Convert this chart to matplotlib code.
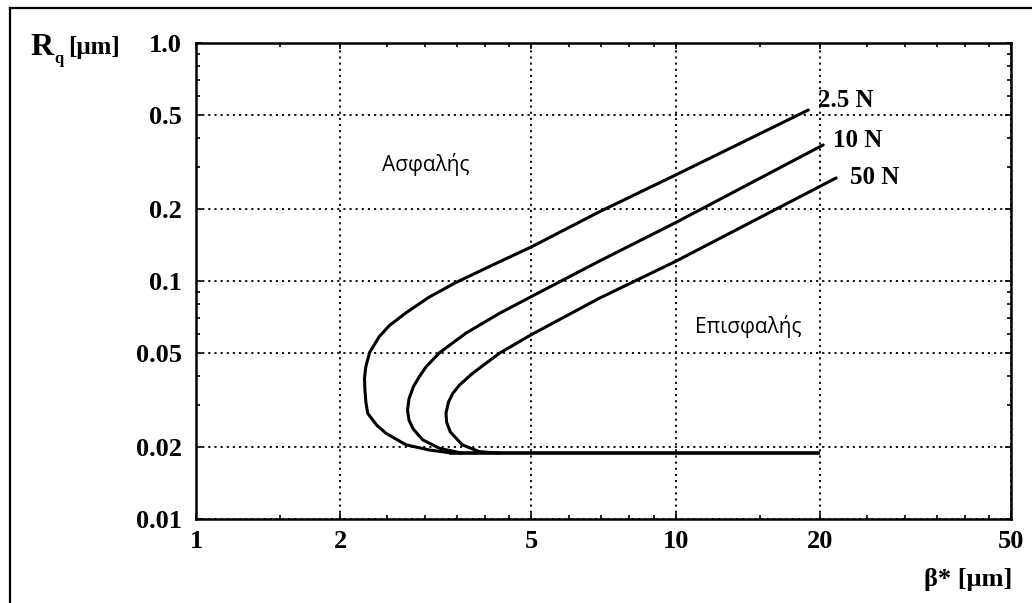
import matplotlib
matplotlib.use("Agg")
import matplotlib.pyplot as plt
from matplotlib.lines import Line2D

# ---- data ----
curve_labels = ["2.5 N", "10 N", "50 N"]

x_25 = [18.9, 10, 6.92, 5, 4.2, 3.48, 3.06, 2.74, 2.53, 2.41, 2.30, 2.26, 2.245, 2.25, 2.26, 2.28, 2.38, 2.49, 2.74, 3.06, 3.37]
y_25 = [0.523, 0.279, 0.195, 0.139, 0.118, 0.0985, 0.0855, 0.0735, 0.0650, 0.0584, 0.050, 0.0437, 0.039, 0.0348, 0.031, 0.0278, 0.0248, 0.0229, 0.0205, 0.0195, 0.0190]

x_10 = [20.3, 10, 6.92, 5, 4.29, 3.65, 3.22, 3.02, 2.92, 2.84, 2.78, 2.76, 2.78, 2.84, 2.97, 3.22, 3.59]
y_10 = [0.373, 0.176, 0.121, 0.0860, 0.0731, 0.0603, 0.050, 0.0437, 0.0396, 0.036, 0.032, 0.0287, 0.026, 0.0238, 0.0215, 0.0198, 0.0189]

x_50 = [21.6, 10, 6.92, 5, 4.29, 3.77, 3.54, 3.43, 3.36, 3.32, 3.33, 3.39, 3.59, 3.89, 4.29]
y_50 = [0.271, 0.121, 0.0845, 0.0595, 0.0497, 0.0409, 0.0365, 0.0337, 0.031, 0.0278, 0.0255, 0.0232, 0.0205, 0.0192, 0.0189]

x_floor = [3.37, 20]
y_floor = [0.0189, 0.0189]

x_ticks = [1, 2, 5, 10, 20, 50]
x_ticklabels = ["1", "2", "5", "10", "20", "50"]
y_ticks = [0.01, 0.02, 0.05, 0.1, 0.2, 0.5, 1.0]
y_ticklabels = ["0.01", "0.02", "0.05", "0.1", "0.2", "0.5", "1.0"]
x_minor = [1.5, 2.5, 3, 3.5, 4, 4.5, 6, 7, 8, 9, 15, 25, 30, 35, 40, 45]
y_minor = [0.03, 0.04, 0.06, 0.07, 0.08, 0.09, 0.3, 0.4, 0.6, 0.7, 0.8, 0.9]

label_pos = [(19.8, 0.576), (21.3, 0.391), (23.1, 0.271)]

SERIF = "Liberation Serif"
W, H = 1032, 603

fig = plt.figure(figsize=(W / 100, H / 100), dpi=100)
fig.patch.set_facecolor("white")
ax = fig.add_axes([196 / W, 1 - 519 / H, (1011 - 196) / W, (519 - 43) / H])
ax.set_xscale("log")
ax.set_yscale("log")
ax.set_xlim(1, 50)
ax.set_ylim(0.01, 1.0)

lw = 2.2
for xs, ys in [(x_25, y_25), (x_10, y_10), (x_50, y_50)]:
    ax.plot(xs, ys, color="black", lw=lw, solid_capstyle="round", solid_joinstyle="round", zorder=3)
ax.plot(x_floor, y_floor, color="black", lw=2.6, solid_capstyle="butt", zorder=3)

ax.set_xticks(x_ticks)
ax.set_xticklabels(x_ticklabels)
ax.set_yticks(y_ticks)
ax.set_yticklabels(y_ticklabels)
ax.set_xticks(x_minor, minor=True)
ax.set_yticks(y_minor, minor=True)
ax.xaxis.set_minor_formatter(plt.NullFormatter())
ax.yaxis.set_minor_formatter(plt.NullFormatter())

ax.tick_params(which="both", direction="in", top=True, right=True, color="black")
ax.tick_params(which="major", length=4, width=1.2)
ax.tick_params(axis="y", which="major", pad=10)
ax.tick_params(axis="x", which="major", pad=8)
ax.tick_params(which="minor", length=3, width=1.2)
for lab in ax.get_xticklabels() + ax.get_yticklabels():
    lab.set_fontfamily(SERIF)
    lab.set_fontsize(19)
    lab.set_fontweight("bold")

ax.grid(True, which="major", color="black", lw=1.3, linestyle=(0, (1.2, 2.2)))
for s in ax.spines.values():
    s.set_linewidth(1.8)
    s.set_color("black")

for (lx, ly), txt in zip(label_pos, curve_labels):
    ax.text(lx, ly, txt, fontfamily=SERIF, fontsize=18, fontweight="bold",
            ha="left", va="center", zorder=4)

fig.text(426 / W, 1 - 165 / H, "Ασφαλής", fontfamily="Open Sans", fontsize=15,
         ha="center", va="center")
fig.text(748 / W, 1 - 327 / H, "Επισφαλής", fontfamily="Open Sans", fontsize=15,
         ha="center", va="center")

# axis titles
fig.text(30 / W, 1 - 55 / H, "R", fontfamily=SERIF, fontsize=23, fontweight="bold",
         ha="left", va="baseline")
fig.text(54 / W, 1 - 63 / H, "q", fontfamily=SERIF, fontsize=12, fontweight="bold",
         ha="left", va="baseline")
fig.text(68 / W, 1 - 54 / H, "[μm]", fontfamily=SERIF, fontsize=18, fontweight="bold",
         ha="left", va="baseline")
fig.text(1012 / W, 1 - 586 / H, "β* [μm]", fontfamily=SERIF, fontsize=19, fontweight="bold",
         ha="right", va="baseline")

# scan frame (left and top edges)
fig.add_artist(Line2D([10 / W, 10 / W], [1 - 8 / H, 0], transform=fig.transFigure,
                      color="black", lw=1.6))
fig.add_artist(Line2D([10 / W, 1], [1 - 8 / H, 1 - 8 / H], transform=fig.transFigure,
                      color="black", lw=1.6))

fig.savefig("out.png", dpi=100, facecolor="white")
